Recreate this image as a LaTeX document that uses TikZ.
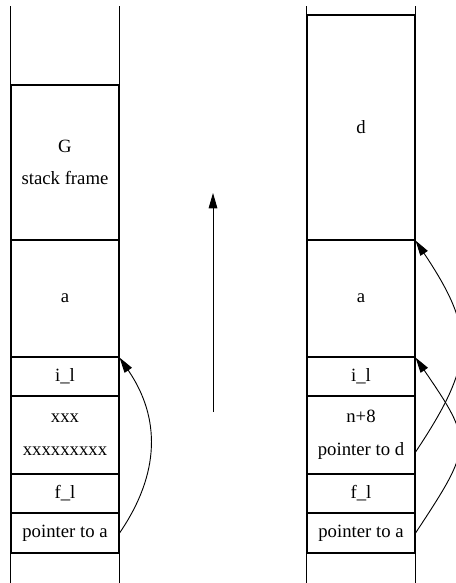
\documentclass[tikz,border=0pt]{standalone}
\usepackage{fontspec}
\setmainfont{Liberation Serif}
\usetikzlibrary{arrows.meta}

\begin{document}
\begin{tikzpicture}[x=0.55pt,y=-0.55pt,line width=0.6pt,
  cell/.style={draw,inner sep=0pt,minimum width=59.4pt,align=center,
    font=\fontsize{10.3}{18}\selectfont},
  ptr/.style={line width=0.5pt,-{Triangle[length=8.5pt,width=4.8pt]}}]
  \useasboundingbox (0,0) rectangle (455,583);
  \foreach \nm/\yt/\yb/\txt in {G/85/240/{G\\stack frame},a/240/357/a,i/357/396/i\_l,
      x/396/474/{xxx\\xxxxxxxxx},f/474/513/f\_l,p/513/553/pointer to a}{
    \node[cell,minimum height={(\yb-\yt)*0.55pt}] (L\nm) at (65,{(\yt+\yb)/2}) {\txt};
  }
  \foreach \nm/\yt/\yb/\txt in {d/15/240/d,a/240/357/a,i/357/396/i\_l,
      n/396/474/{n+8\\pointer to d},f/474/513/f\_l,p/513/553/pointer to a}{
    \node[cell,minimum height={(\yb-\yt)*0.55pt}] (R\nm) at (361,{(\yt+\yb)/2}) {\txt};
  }
  \draw (LG.north west) -- ++(0,-78);
  \draw (LG.north east) -- ++(0,-78);
  \draw (Rd.north west) -- ++(0,-8);
  \draw (Rd.north east) -- ++(0,-8);
  \draw (Lp.south west) -- ++(0,32);
  \draw (Lp.south east) -- ++(0,32);
  \draw (Rp.south west) -- ++(0,32);
  \draw (Rp.south east) -- ++(0,32);
  \coordinate (grow-lo) at (213,412);
  \coordinate (grow-hi) at (213,193);
  \draw[ptr] (grow-lo) -- (grow-hi);
  \draw[ptr] (Lp.east) .. controls +(41,-60) and +(41,60) .. (La.south east);
  \draw[ptr] ([yshift=-9.35pt]Rn.east) .. controls +(60,-90) and +(60,90) .. (Rd.south east);
  \draw[ptr] (Rp.east) .. controls +(58,-88) and +(58,85) .. (Ra.south east);
\end{tikzpicture}
\end{document}
